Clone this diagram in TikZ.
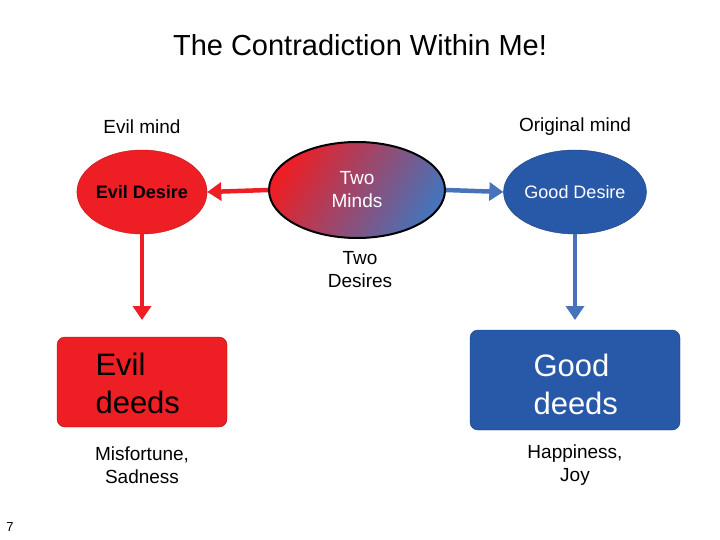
\documentclass[tikz,border=0pt]{standalone}
\usepackage{fontspec}
\setmainfont{Liberation Sans}
\usetikzlibrary{arrows.meta,shapes.geometric}
\definecolor{ered}{RGB}{237,30,36}
\definecolor{gblue}{RGB}{40,88,168}
\definecolor{ablue}{RGB}{70,115,185}
\begin{document}
\begin{tikzpicture}[x=1pt,y=-1pt,
  lbl/.style={font=\fontsize{19}{23}\selectfont,align=center},
  big/.style={font=\fontsize{31}{38}\selectfont,align=center},
  arr/.style={line width=4.5pt,-{Triangle[length=14pt,width=18pt]}}]
\useasboundingbox (0,0) rectangle (720,540);
\node (title) at (360,45) {\fontsize{29}{34}\selectfont The Contradiction Within Me!};
\node[lbl] (em) at (142,127) {Evil mind};
\node[lbl] (om) at (575,127) {Original mind};
\node[ellipse,fill=ered,draw=ered!80!black,minimum width=130pt,minimum height=84pt,inner sep=0pt,font=\bfseries\fontsize{18}{22}\selectfont] (ed) at (142,192) {Evil Desire};
\node[ellipse,draw=black,line width=2pt,left color=ered,right color=ablue,shading angle=60,minimum width=176pt,minimum height=96pt,inner sep=0pt,text=white,align=center,font=\fontsize{19}{23}\selectfont] (tm) at (357,190) {Two\\Minds};
\node[ellipse,fill=gblue,draw=gblue!70!black,minimum width=136pt,minimum height=84pt,inner sep=0pt,text=white,font=\fontsize{18}{22}\selectfont] (gd) at (575,192) {Good Desire};
\draw[arr,ered] (tm.west) -- (ed.east);
\draw[arr,ablue] (tm.east) -- (gd.west);
\node[lbl] (td) at (360,270) {Two\\Desires};
\node[draw=ered!70!black,fill=ered,rounded corners=8pt,minimum width=170pt,minimum height=90pt] (edb) at (142,382) {};
\node[big,align=left,anchor=west] at (92,383) {Evil\\deeds};
\node[draw=gblue!70!black,fill=gblue,rounded corners=8pt,minimum width=210pt,minimum height=100pt] (gdb) at (575,380) {};
\node[big,align=left,anchor=west,text=white] at (530,384) {Good\\deeds};
\coordinate (a1) at (142,320);
\coordinate (a2) at (575,320);
\draw[arr,ered,line width=4pt] (ed.south) -- (a1);
\draw[arr,ablue,line width=4pt] (gd.south) -- (a2);
\node[lbl] (ms) at (142,465) {Misfortune,\\Sadness};
\node[lbl] (hj) at (575,465) {Happiness,\\Joy};
\node[font=\fontsize{13}{15}\selectfont] (pg) at (10,527) {7};
\end{tikzpicture}
\end{document}
